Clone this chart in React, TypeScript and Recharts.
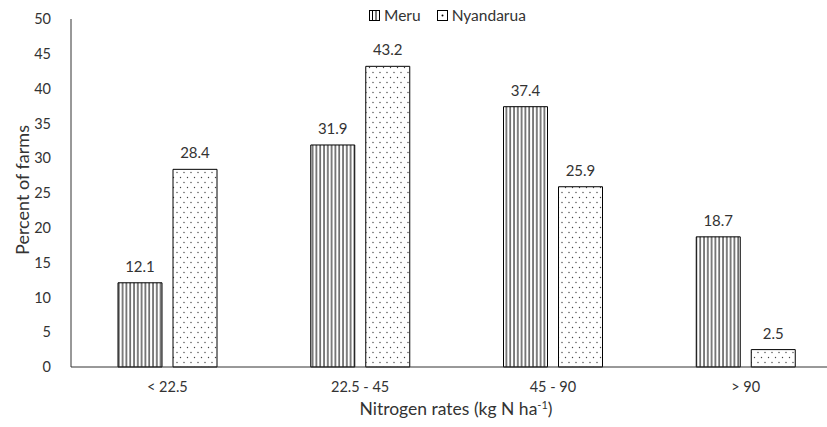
import React from 'react';
import { BarChart, Bar, XAxis, YAxis, LabelList } from 'recharts';

const categories = ['< 22.5', '22.5 - 45', '45 - 90', '> 90'];
const meru = [12.1, 31.9, 37.4, 18.7];
const nyandarua = [28.4, 43.2, 25.9, 2.5];
const yTicks = [0, 5, 10, 15, 20, 25, 30, 35, 40, 45, 50];

const data = categories.map((c, i) => ({ cat: c, Meru: meru[i], Nyandarua: nyandarua[i] }));

const FONT = 'Lato, "Liberation Sans", sans-serif';
const TXT = '#333';

const XLabel = (props: any) => {
  const vb = props.viewBox || {};
  const cx = 456;
  const cy = vb.y + 48;
  return (
    <text x={cx} y={cy} textAnchor="middle" fill={TXT} fontSize={17.5} fontFamily={FONT}>
      Nitrogen rates (kg N ha
      <tspan dy={-6} fontSize={11}>-1</tspan>
      <tspan dy={6}>)</tspan>
    </text>
  );
};

const YLabel = (props: any) => {
  const vb = props.viewBox || {};
  const cx = 22;
  const cy = vb.y + vb.height / 2 - 3;
  return (
    <text x={cx} y={cy} transform={`rotate(-90 ${cx} ${cy})`} textAnchor="middle" dominantBaseline="central" fill={TXT} fontSize={18} fontFamily={FONT}>
      Percent of farms
    </text>
  );
};

export default function App() {
  return (
    <div style={{ position: 'absolute', left: 0, top: 0, width: 827, height: 427, background: '#fff', overflow: 'hidden' }}>
      <svg width={0} height={0} style={{ position: 'absolute' }}>
        <defs>
          <pattern id="vlines" patternUnits="userSpaceOnUse" width={3.8} height={10}>
            <rect x={0} y={0} width={3.8} height={10} fill="#fff" />
            <line x1={1} y1={0} x2={1} y2={10} stroke="#000" strokeWidth={1} />
          </pattern>
          <pattern id="dots" patternUnits="userSpaceOnUse" width={7} height={10}>
            <rect x={0} y={0} width={7} height={10} fill="#fff" />
            <circle cx={2} cy={2.5} r={0.7} fill="#444" />
            <circle cx={5.5} cy={7.5} r={0.7} fill="#444" />
          </pattern>
        </defs>
      </svg>
      <BarChart
        width={842}
        height={427}
        data={data}
        margin={{ top: 19, right: 0, bottom: 30, left: 30 }}
        barGap={11}
        barCategoryGap="24%"
      >
        <XAxis
          dataKey="cat"
          tickLine={false}
          axisLine={{ stroke: '#333' }}
          tick={{ fill: TXT, fontSize: 14.5, fontFamily: FONT }}
          tickMargin={9}
          height={30}
          label={<XLabel />}
        />
        <YAxis
          domain={[0, 50]}
          ticks={yTicks}
          interval={0}
          tickLine={false}
          axisLine={{ stroke: '#333' }}
          tick={{ fill: TXT, fontSize: 14.5, fontFamily: FONT }}
          tickMargin={14}
          width={41}
          label={<YLabel />}
        />
        <Bar dataKey="Meru" fill="url(#vlines)" stroke="#000" strokeWidth={1} barSize={44} isAnimationActive={false}>
          <LabelList dataKey="Meru" position="top" offset={11} fill={TXT} fontSize={15} fontFamily={FONT} />
        </Bar>
        <Bar dataKey="Nyandarua" fill="url(#dots)" stroke="#000" strokeWidth={1} barSize={44} isAnimationActive={false}>
          <LabelList dataKey="Nyandarua" position="top" offset={11} fill={TXT} fontSize={15} fontFamily={FONT} />
        </Bar>
      </BarChart>
      <div style={{ position: 'absolute', left: 369, top: 6, display: 'flex', alignItems: 'center', fontFamily: FONT, fontSize: 15.5, color: TXT }}>
        <svg width={11} height={11} style={{ marginRight: 4 }}>
          <rect x={0.5} y={0.5} width={10} height={10} fill="#fff" stroke="#000" />
          <line x1={3.5} y1={0} x2={3.5} y2={11} stroke="#000" />
          <line x1={7} y1={0} x2={7} y2={11} stroke="#000" />
        </svg>
        <span style={{ marginRight: 16 }}>Meru</span>
        <svg width={11} height={11} style={{ marginRight: 4 }}>
          <rect x={0.5} y={0.5} width={10} height={10} fill="#fff" stroke="#000" />
          <circle cx={5.5} cy={5.5} r={1} fill="#000" />
        </svg>
        <span>Nyandarua</span>
      </div>
    </div>
  );
}
